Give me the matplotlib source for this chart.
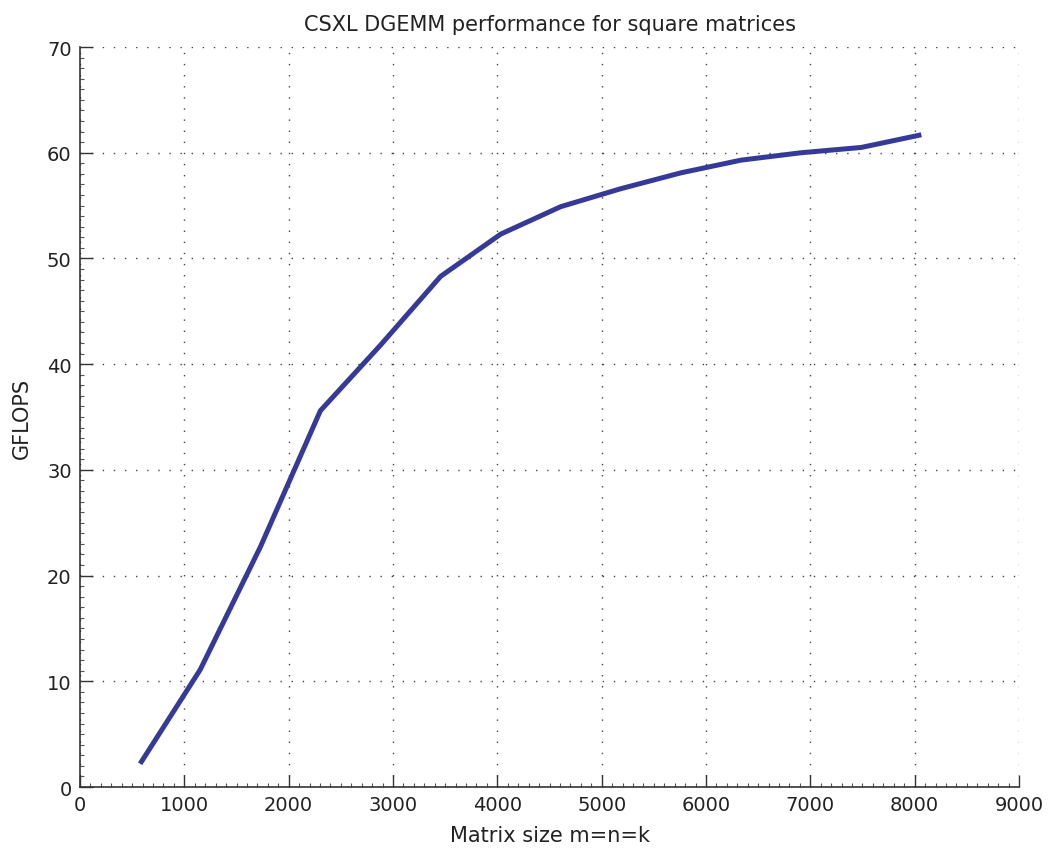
"""
CSXL DGEMM performance for square matrices -- GFLOPS vs matrix size.
"""

import matplotlib
matplotlib.use("Agg")
import matplotlib.pyplot as plt
from matplotlib.ticker import MultipleLocator


# ---------------------------------------------------------------------------
# Data
# ---------------------------------------------------------------------------
MATRIX_SIZE = [576, 1152, 1728, 2304, 2880, 3456, 4032,
               4608, 5184, 5760, 6336, 6912, 7488, 8064]
GFLOPS = [2.2, 11.1, 22.7, 35.6, 41.8, 48.3, 52.3,
          54.9, 56.6, 58.1, 59.3, 60.0, 60.5, 61.7]

X_TICKS = [0, 1000, 2000, 3000, 4000, 5000, 6000, 7000, 8000, 9000]
Y_TICKS = [0, 10, 20, 30, 40, 50, 60, 70]

LINE_COLOR = "#353a9a"


def main() -> None:
    plt.rcParams["font.family"] = ["DejaVu Sans"]

    fig = plt.figure(figsize=(10.53, 8.53), dpi=100)
    ax = fig.add_axes([0.076, 0.0762, 0.8917, 0.8675])

    ax.plot(MATRIX_SIZE, GFLOPS, color=LINE_COLOR, linewidth=3.6,
            solid_capstyle="butt", zorder=3)

    ax.set_xlim(X_TICKS[0], X_TICKS[-1])
    ax.set_ylim(Y_TICKS[0], Y_TICKS[-1])
    ax.set_xticks(X_TICKS)
    ax.set_yticks(Y_TICKS)
    ax.xaxis.set_minor_locator(MultipleLocator(100))
    ax.yaxis.set_minor_locator(MultipleLocator(1))

    # MATLAB-ish look: grid dotted, only left/bottom axes solid
    ax.grid(True, which="major", color="#444444", linestyle=(0, (1, 7)),
            linewidth=1.0)
    ax.spines["top"].set_visible(False)
    ax.spines["right"].set_visible(False)
    for side in ("left", "bottom"):
        ax.spines[side].set_color("#333333")
        ax.spines[side].set_linewidth(1.2)

    ax.tick_params(which="major", direction="in", length=9, width=1,
                   color="#333333", labelsize=14, labelcolor="#222222",
                   pad=6)
    ax.tick_params(which="minor", direction="in", length=3, width=0.8,
                   color="#555555")

    ax.set_xlabel("Matrix size m=n=k", fontsize=15, color="#222222",
                  labelpad=8)
    ax.set_ylabel("GFLOPS", fontsize=15, color="#222222", labelpad=11)
    ax.set_title("CSXL DGEMM performance for square matrices",
                 fontsize=15, color="#222222", pad=12)

    fig.savefig("out.png", dpi=100)


if __name__ == "__main__":
    main()
